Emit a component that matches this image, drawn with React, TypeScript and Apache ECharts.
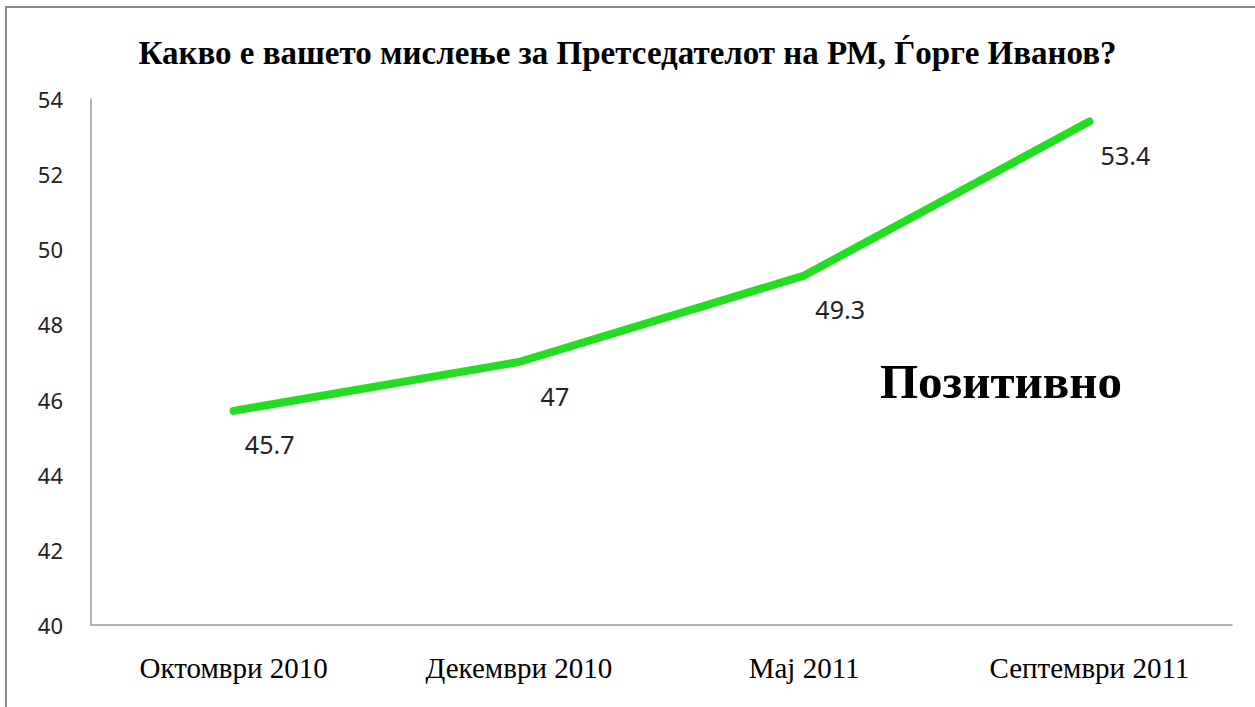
import React, { useEffect, useRef } from "react";
import * as echarts from "echarts";

const titleText = "Какво е вашето мислење за Претседателот на РМ, Ѓорге Иванов?";
const categories = ["Октомври 2010", "Декември 2010", "Мај 2011", "Септември 2011"];
const positiveValues = [45.7, 47, 49.3, 53.4];
const seriesName = "Позитивно";
const yMin = 40;
const yMax = 54;
const yStep = 2;

export default function App() {
  const ref = useRef<HTMLDivElement>(null);
  useEffect(() => {
    if (!ref.current) return;
    const chart = echarts.init(ref.current, null, { renderer: "svg" });
    chart.setOption({
      animation: false,
      backgroundColor: "#ffffff",
      title: {
        text: titleText,
        left: "center",
        top: 31,
        textStyle: {
          fontFamily: "Liberation Serif",
          fontWeight: "bold",
          fontSize: 33,
          color: "#000000",
        },
      },
      grid: { left: 91, right: 23, top: 99, bottom: 82, containLabel: false },
      xAxis: {
        type: "category",
        data: categories,
        boundaryGap: true,
        axisLine: { show: true, lineStyle: { color: "#9a9a9a", width: 1.5 } },
        axisTick: { show: false },
        axisLabel: {
          margin: 28,
          fontFamily: "Liberation Serif",
          fontSize: 29,
          color: "#000000",
        },
        splitLine: { show: false },
      },
      yAxis: {
        type: "value",
        min: yMin,
        max: yMax,
        interval: yStep,
        axisLine: { show: true, lineStyle: { color: "#9a9a9a", width: 1.5 } },
        axisTick: { show: false },
        splitLine: { show: false },
        axisLabel: {
          margin: 28,
          fontFamily: "Noto Sans",
          fontSize: 22,
          color: "#222222",
        },
      },
      series: [
        {
          name: seriesName,
          type: "line",
          data: positiveValues,
          showSymbol: true,
          symbol: "circle",
          symbolSize: 2,
          itemStyle: { color: "#22dd22" },
          lineStyle: { color: "#22dd22", width: 8, cap: "round", join: "round" },
          label: {
            show: true,
            position: "bottom",
            distance: 20,
            fontFamily: "Noto Sans",
            fontSize: 25,
            color: "#222222",
          },
          labelLayout: { dx: 36, dy: 0, hideOverlap: false },
        },
      ],
      graphic: [
        {
          type: "rect",
          shape: { x: 6, y: 7, width: 1400, height: 900 },
          style: { fill: "none", stroke: "#8a8a8a", lineWidth: 2 },
          silent: true,
        },
        {
          type: "text",
          x: 1001,
          y: 381,
          style: {
            text: seriesName,
            fontFamily: "Liberation Serif",
            fontWeight: "bold",
            fontSize: 49,
            fill: "#000000",
            align: "center",
            verticalAlign: "middle",
          },
        },
      ],
    });
    return () => chart.dispose();
  }, []);
  return (
    <div style={{ position: "fixed", left: 0, top: 0, width: 1255, height: 707, overflow: "hidden" }}>
      <div ref={ref} style={{ width: 1255, height: 707 }} />
    </div>
  );
}
